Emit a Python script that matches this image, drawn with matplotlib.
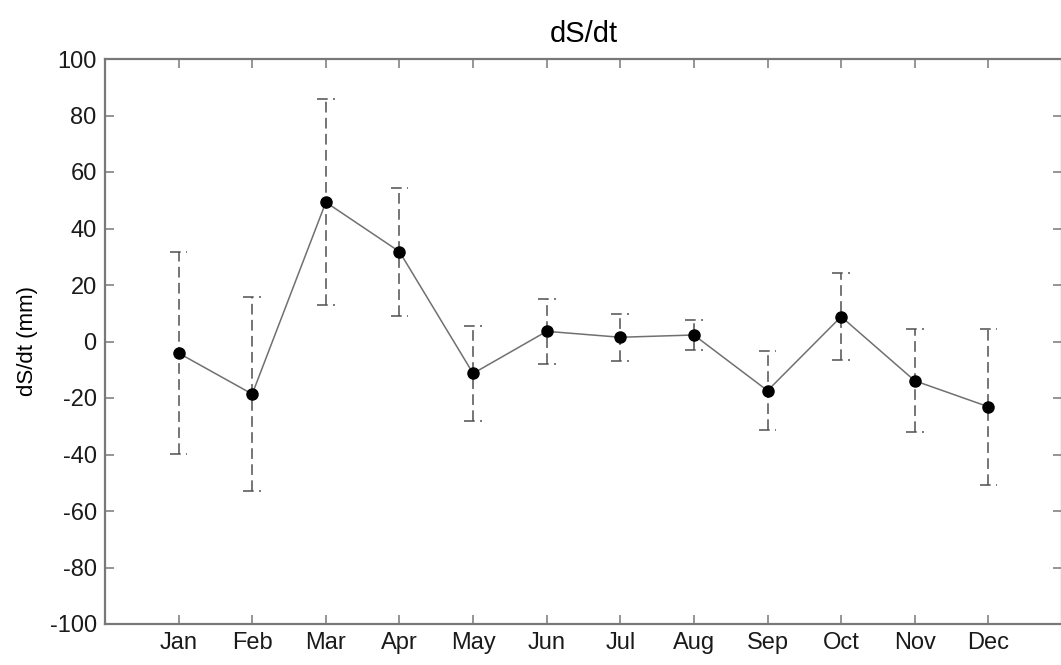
import matplotlib
matplotlib.use("Agg")
import matplotlib.pyplot as plt
import numpy as np

# Monthly storage change with one-standard-deviation spread
months = ["Jan", "Feb", "Mar", "Apr", "May", "Jun",
          "Jul", "Aug", "Sep", "Oct", "Nov", "Dec"]
ds_dt = [-4.1, -18.6, 49.3, 31.8, -11.3, 3.6, 1.5, 2.3, -17.4, 8.8, -13.9, -23.1]
ds_dt_std = [35.8, 34.4, 36.4, 22.6, 16.8, 11.6, 8.3, 5.3, 14.0, 15.3, 18.2, 27.6]

plt.rcParams["font.family"] = ["Liberation Sans", "DejaVu Sans"]
plt.rcParams["axes.unicode_minus"] = False

fig = plt.figure(figsize=(10.61, 6.65), dpi=100)
ax = fig.add_axes([105 / 1061, 41 / 665, 957 / 1061, 565 / 665])

x = np.arange(1, len(months) + 1)
y = np.array(ds_dt)
e = np.array(ds_dt_std)

err_color = "#505050"
dash = (0, (7, 3.5))

# dashed vertical error bars and their caps
ax.vlines(x, y - e, y + e, colors=err_color, linestyles=dash, linewidth=1.1, zorder=2)
cap = 0.12
ax.hlines(y + e, x - cap, x + cap, colors=err_color, linestyles=dash, linewidth=1.1, zorder=2)
ax.hlines(y - e, x - cap, x + cap, colors=err_color, linestyles=dash, linewidth=1.1, zorder=2)

# mean values joined by a thin line
ax.plot(x, y, color="#707070", linewidth=1.1, zorder=3)
ax.plot(x, y, linestyle="none", marker="o", markersize=8,
        markerfacecolor="black", markeredgecolor="black", zorder=4)

ax.set_xlim(0, 13)
ax.set_ylim(-100, 100)
ax.set_xticks(x)
ax.set_xticklabels(months)
ax.set_yticks(np.arange(-100, 101, 20))

for s in ax.spines.values():
    s.set_color("#787878")
    s.set_linewidth(1.6)

ax.tick_params(axis="both", direction="in", length=6.5, width=1.1, color="#787878",
               labelsize=17, labelcolor="#1a1a1a", top=True, right=True)
ax.tick_params(axis="x", pad=6)
ax.tick_params(axis="y", pad=6)

ax.set_ylabel("dS/dt (mm)", fontsize=16, labelpad=8)
ax.set_title("dS/dt", fontsize=21, pad=12)

fig.savefig("out.png", dpi=100)
